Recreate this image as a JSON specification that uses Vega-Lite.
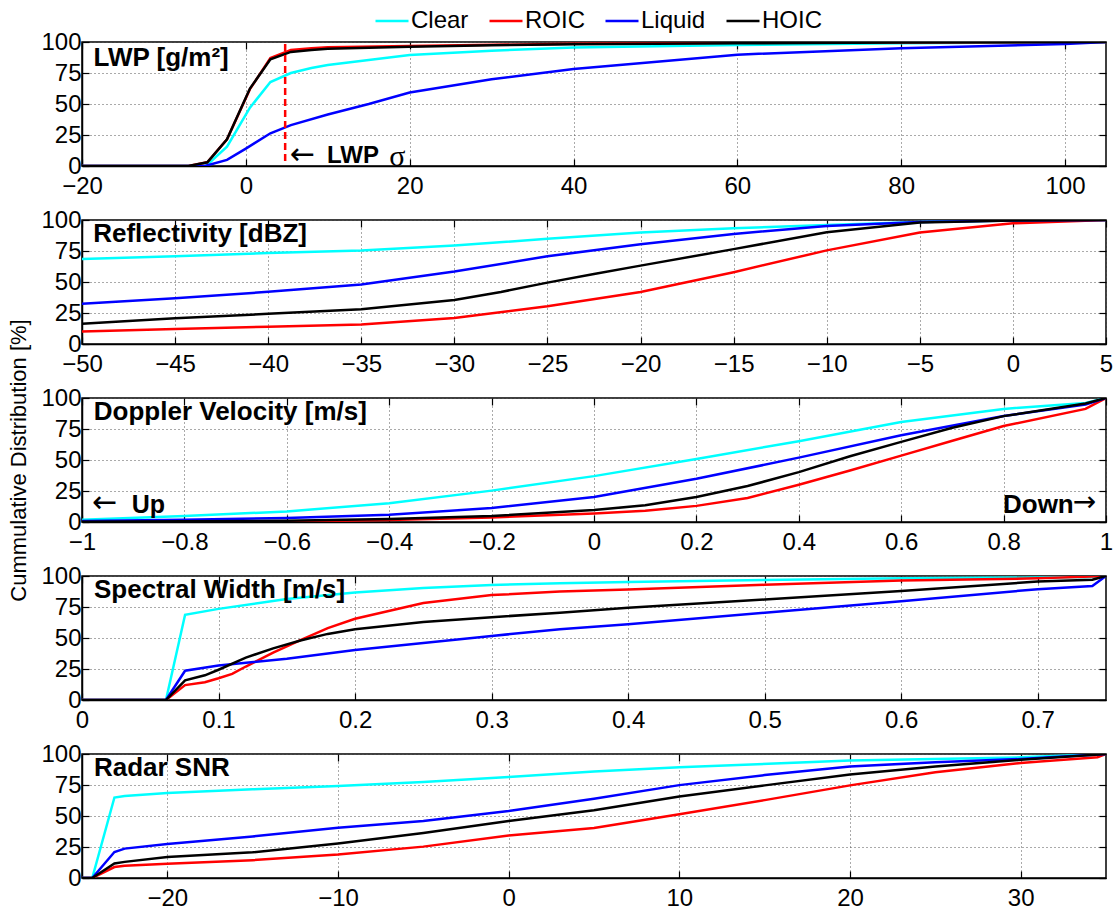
{
  "$schema": "https://vega.github.io/schema/vega-lite/v6.json",
  "padding": {"left": 6, "top": 3, "right": 0, "bottom": 5},
  "background": "white",
  "spacing": 54,
  "bounds": "flush",
  "resolve": {"scale": {"color": "shared", "x": "independent", "y": "independent"}},
  "datasets": {
    "lwp": [
      {"s":"Clear","x":-20,"y":0},{"s":"Clear","x":-5,"y":0},{"s":"Clear","x":-4.7,"y":1},{"s":"Clear","x":-2.3,"y":15.6},{"s":"Clear","x":0.5,"y":47},{"s":"Clear","x":3,"y":67.7},{"s":"Clear","x":5.5,"y":75},{"s":"Clear","x":8,"y":79},{"s":"Clear","x":10,"y":81.5},{"s":"Clear","x":15,"y":85.5},{"s":"Clear","x":20,"y":89.5},{"s":"Clear","x":30,"y":93},{"s":"Clear","x":40,"y":95.5},{"s":"Clear","x":60,"y":97.5},{"s":"Clear","x":80,"y":99},{"s":"Clear","x":105,"y":100},
      {"s":"ROIC","x":-20,"y":0},{"s":"ROIC","x":-7,"y":0},{"s":"ROIC","x":-4.7,"y":3},{"s":"ROIC","x":-2.3,"y":21.5},{"s":"ROIC","x":0.5,"y":62},{"s":"ROIC","x":3,"y":87},{"s":"ROIC","x":5.5,"y":93.5},{"s":"ROIC","x":8,"y":95},{"s":"ROIC","x":10,"y":95.7},{"s":"ROIC","x":20,"y":96.8},{"s":"ROIC","x":40,"y":98.6},{"s":"ROIC","x":60,"y":99.3},{"s":"ROIC","x":105,"y":100},
      {"s":"Liquid","x":-20,"y":0},{"s":"Liquid","x":-5,"y":0},{"s":"Liquid","x":-2.3,"y":4.9},{"s":"Liquid","x":0,"y":14},{"s":"Liquid","x":3,"y":26.4},{"s":"Liquid","x":5.5,"y":33},{"s":"Liquid","x":10,"y":41.5},{"s":"Liquid","x":15,"y":50},{"s":"Liquid","x":20,"y":59.3},{"s":"Liquid","x":30,"y":70},{"s":"Liquid","x":40,"y":78.2},{"s":"Liquid","x":60,"y":89.8},{"s":"Liquid","x":80,"y":95},{"s":"Liquid","x":100,"y":98.4},{"s":"Liquid","x":105,"y":100},
      {"s":"HOIC","x":-20,"y":0},{"s":"HOIC","x":-7,"y":0},{"s":"HOIC","x":-4.7,"y":3},{"s":"HOIC","x":-2.3,"y":21.6},{"s":"HOIC","x":0.5,"y":62.5},{"s":"HOIC","x":3,"y":86},{"s":"HOIC","x":5.5,"y":92},{"s":"HOIC","x":8,"y":93.5},{"s":"HOIC","x":10,"y":94.5},{"s":"HOIC","x":20,"y":96.2},{"s":"HOIC","x":30,"y":97.3},{"s":"HOIC","x":40,"y":98.2},{"s":"HOIC","x":60,"y":99},{"s":"HOIC","x":80,"y":99.5},{"s":"HOIC","x":105,"y":100}
    ],
    "refl": [
      {"s":"Clear","x":-50,"y":68.5},{"s":"Clear","x":-45,"y":70.7},{"s":"Clear","x":-40,"y":73.3},{"s":"Clear","x":-35,"y":75.5},{"s":"Clear","x":-30,"y":79.5},{"s":"Clear","x":-25,"y":84.8},{"s":"Clear","x":-20,"y":89.9},{"s":"Clear","x":-15,"y":93.3},{"s":"Clear","x":-10,"y":96},{"s":"Clear","x":-5,"y":98.4},{"s":"Clear","x":0,"y":99.5},{"s":"Clear","x":5,"y":100},
      {"s":"ROIC","x":-50,"y":10.1},{"s":"ROIC","x":-45,"y":12},{"s":"ROIC","x":-40,"y":13.9},{"s":"ROIC","x":-35,"y":15.7},{"s":"ROIC","x":-30,"y":21},{"s":"ROIC","x":-25,"y":30.5},{"s":"ROIC","x":-20,"y":41.9},{"s":"ROIC","x":-15,"y":57.9},{"s":"ROIC","x":-10,"y":75.5},{"s":"ROIC","x":-5,"y":89.9},{"s":"ROIC","x":0,"y":97.3},{"s":"ROIC","x":5,"y":100},
      {"s":"Liquid","x":-50,"y":32.5},{"s":"Liquid","x":-45,"y":36.8},{"s":"Liquid","x":-40,"y":42.1},{"s":"Liquid","x":-35,"y":48},{"s":"Liquid","x":-30,"y":58.4},{"s":"Liquid","x":-25,"y":70.7},{"s":"Liquid","x":-20,"y":80.5},{"s":"Liquid","x":-15,"y":88.8},{"s":"Liquid","x":-10,"y":95.2},{"s":"Liquid","x":-5,"y":98.4},{"s":"Liquid","x":0,"y":99.5},{"s":"Liquid","x":5,"y":100},
      {"s":"HOIC","x":-50,"y":16.3},{"s":"HOIC","x":-45,"y":20.8},{"s":"HOIC","x":-40,"y":24.3},{"s":"HOIC","x":-35,"y":28},{"s":"HOIC","x":-30,"y":35.5},{"s":"HOIC","x":-27.5,"y":42},{"s":"HOIC","x":-25,"y":49.5},{"s":"HOIC","x":-22.5,"y":56.5},{"s":"HOIC","x":-20,"y":63.2},{"s":"HOIC","x":-15,"y":76.5},{"s":"HOIC","x":-10,"y":90.1},{"s":"HOIC","x":-5,"y":97.9},{"s":"HOIC","x":0,"y":99.5},{"s":"HOIC","x":5,"y":100}
    ],
    "dop": [
      {"s":"Clear","x":-1,"y":1.9},{"s":"Clear","x":-0.8,"y":4.8},{"s":"Clear","x":-0.6,"y":8.5},{"s":"Clear","x":-0.4,"y":15.2},{"s":"Clear","x":-0.2,"y":25.3},{"s":"Clear","x":0,"y":37},{"s":"Clear","x":0.2,"y":50.8},{"s":"Clear","x":0.4,"y":65.2},{"s":"Clear","x":0.6,"y":80.6},{"s":"Clear","x":0.8,"y":91.2},{"s":"Clear","x":0.96,"y":96},{"s":"Clear","x":1,"y":100},
      {"s":"ROIC","x":-1,"y":0},{"s":"ROIC","x":-0.6,"y":0.5},{"s":"ROIC","x":-0.4,"y":1.6},{"s":"ROIC","x":-0.2,"y":3.7},{"s":"ROIC","x":0,"y":6.9},{"s":"ROIC","x":0.1,"y":9},{"s":"ROIC","x":0.2,"y":13},{"s":"ROIC","x":0.3,"y":19.4},{"s":"ROIC","x":0.4,"y":30},{"s":"ROIC","x":0.5,"y":41.5},{"s":"ROIC","x":0.6,"y":53.5},{"s":"ROIC","x":0.7,"y":65.5},{"s":"ROIC","x":0.8,"y":77.4},{"s":"ROIC","x":0.96,"y":91.2},{"s":"ROIC","x":1,"y":100},
      {"s":"Liquid","x":-1,"y":0.8},{"s":"Liquid","x":-0.8,"y":1.9},{"s":"Liquid","x":-0.6,"y":3.2},{"s":"Liquid","x":-0.4,"y":5.9},{"s":"Liquid","x":-0.2,"y":11.2},{"s":"Liquid","x":0,"y":20.2},{"s":"Liquid","x":0.2,"y":34.8},{"s":"Liquid","x":0.4,"y":51.9},{"s":"Liquid","x":0.6,"y":69.9},{"s":"Liquid","x":0.8,"y":85.4},{"s":"Liquid","x":0.96,"y":94.7},{"s":"Liquid","x":1,"y":100},
      {"s":"HOIC","x":-1,"y":0.3},{"s":"HOIC","x":-0.8,"y":0.6},{"s":"HOIC","x":-0.6,"y":1},{"s":"HOIC","x":-0.4,"y":2.4},{"s":"HOIC","x":-0.2,"y":4.8},{"s":"HOIC","x":0,"y":9.6},{"s":"HOIC","x":0.1,"y":13.5},{"s":"HOIC","x":0.2,"y":20.2},{"s":"HOIC","x":0.3,"y":29},{"s":"HOIC","x":0.4,"y":40.2},{"s":"HOIC","x":0.5,"y":53},{"s":"HOIC","x":0.6,"y":64.6},{"s":"HOIC","x":0.7,"y":76},{"s":"HOIC","x":0.8,"y":85.4},{"s":"HOIC","x":0.96,"y":95.5},{"s":"HOIC","x":1,"y":100}
    ],
    "sw": [
      {"s":"Clear","x":0,"y":0},{"s":"Clear","x":0.0615,"y":0},{"s":"Clear","x":0.0755,"y":68.7},{"s":"Clear","x":0.1,"y":73.5},{"s":"Clear","x":0.15,"y":81.4},{"s":"Clear","x":0.2,"y":86.7},{"s":"Clear","x":0.25,"y":90.3},{"s":"Clear","x":0.3,"y":92.8},{"s":"Clear","x":0.35,"y":94.2},{"s":"Clear","x":0.4,"y":95.2},{"s":"Clear","x":0.5,"y":96.8},{"s":"Clear","x":0.6,"y":98.1},{"s":"Clear","x":0.7,"y":98.8},{"s":"Clear","x":0.74,"y":99.2},{"s":"Clear","x":0.75,"y":100},
      {"s":"ROIC","x":0,"y":0},{"s":"ROIC","x":0.0615,"y":0},{"s":"ROIC","x":0.0755,"y":12},{"s":"ROIC","x":0.09,"y":14.3},{"s":"ROIC","x":0.1,"y":17.5},{"s":"ROIC","x":0.11,"y":21},{"s":"ROIC","x":0.12,"y":27},{"s":"ROIC","x":0.14,"y":38.2},{"s":"ROIC","x":0.16,"y":48.3},{"s":"ROIC","x":0.18,"y":58},{"s":"ROIC","x":0.2,"y":65.5},{"s":"ROIC","x":0.25,"y":78.2},{"s":"ROIC","x":0.3,"y":84.6},{"s":"ROIC","x":0.35,"y":87.5},{"s":"ROIC","x":0.4,"y":89.2},{"s":"ROIC","x":0.5,"y":92.9},{"s":"ROIC","x":0.6,"y":96.3},{"s":"ROIC","x":0.7,"y":98.1},{"s":"ROIC","x":0.75,"y":100},
      {"s":"Liquid","x":0,"y":0},{"s":"Liquid","x":0.0615,"y":0},{"s":"Liquid","x":0.0755,"y":23.6},{"s":"Liquid","x":0.1,"y":27.9},{"s":"Liquid","x":0.15,"y":33.2},{"s":"Liquid","x":0.2,"y":40.3},{"s":"Liquid","x":0.3,"y":51.7},{"s":"Liquid","x":0.35,"y":57},{"s":"Liquid","x":0.4,"y":61},{"s":"Liquid","x":0.5,"y":70.4},{"s":"Liquid","x":0.6,"y":79.6},{"s":"Liquid","x":0.7,"y":89.4},{"s":"Liquid","x":0.74,"y":92},{"s":"Liquid","x":0.75,"y":100},
      {"s":"HOIC","x":0,"y":0},{"s":"HOIC","x":0.0615,"y":0},{"s":"HOIC","x":0.0755,"y":15.9},{"s":"HOIC","x":0.09,"y":19.9},{"s":"HOIC","x":0.1,"y":24.4},{"s":"HOIC","x":0.12,"y":34.2},{"s":"HOIC","x":0.14,"y":41.6},{"s":"HOIC","x":0.16,"y":48},{"s":"HOIC","x":0.18,"y":53.3},{"s":"HOIC","x":0.2,"y":57},{"s":"HOIC","x":0.25,"y":62.9},{"s":"HOIC","x":0.3,"y":66.8},{"s":"HOIC","x":0.35,"y":70.3},{"s":"HOIC","x":0.4,"y":74.3},{"s":"HOIC","x":0.5,"y":81},{"s":"HOIC","x":0.6,"y":88},{"s":"HOIC","x":0.7,"y":95.5},{"s":"HOIC","x":0.74,"y":97},{"s":"HOIC","x":0.75,"y":100}
    ],
    "snr": [
      {"s":"Clear","x":-25,"y":0},{"s":"Clear","x":-24.4,"y":0},{"s":"Clear","x":-23.1,"y":64.9},{"s":"Clear","x":-22.5,"y":66.2},{"s":"Clear","x":-20,"y":68.6},{"s":"Clear","x":-15,"y":71.5},{"s":"Clear","x":-10,"y":74.2},{"s":"Clear","x":-5,"y":77.4},{"s":"Clear","x":0,"y":81.4},{"s":"Clear","x":5,"y":85.8},{"s":"Clear","x":10,"y":89.4},{"s":"Clear","x":20,"y":94.7},{"s":"Clear","x":30,"y":97.3},{"s":"Clear","x":35,"y":100},
      {"s":"ROIC","x":-25,"y":0},{"s":"ROIC","x":-24.4,"y":0},{"s":"ROIC","x":-23.1,"y":8.8},{"s":"ROIC","x":-22.5,"y":9.8},{"s":"ROIC","x":-20,"y":11.4},{"s":"ROIC","x":-15,"y":14.4},{"s":"ROIC","x":-10,"y":18.9},{"s":"ROIC","x":-5,"y":25.3},{"s":"ROIC","x":0,"y":34.3},{"s":"ROIC","x":5,"y":40.3},{"s":"ROIC","x":10,"y":51.4},{"s":"ROIC","x":15,"y":62.8},{"s":"ROIC","x":20,"y":74.7},{"s":"ROIC","x":25,"y":85.3},{"s":"ROIC","x":30,"y":92.8},{"s":"ROIC","x":34.5,"y":97.4},{"s":"ROIC","x":35,"y":100},
      {"s":"Liquid","x":-25,"y":0},{"s":"Liquid","x":-24.4,"y":0},{"s":"Liquid","x":-23.1,"y":21},{"s":"Liquid","x":-22.5,"y":23.7},{"s":"Liquid","x":-20,"y":27.4},{"s":"Liquid","x":-15,"y":33.5},{"s":"Liquid","x":-10,"y":40.5},{"s":"Liquid","x":-5,"y":46},{"s":"Liquid","x":0,"y":54},{"s":"Liquid","x":5,"y":64},{"s":"Liquid","x":10,"y":74.9},{"s":"Liquid","x":15,"y":83},{"s":"Liquid","x":20,"y":90},{"s":"Liquid","x":25,"y":93.4},{"s":"Liquid","x":30,"y":96},{"s":"Liquid","x":35,"y":100},
      {"s":"HOIC","x":-25,"y":0},{"s":"HOIC","x":-24.4,"y":0},{"s":"HOIC","x":-23.1,"y":11.7},{"s":"HOIC","x":-22.5,"y":13},{"s":"HOIC","x":-20,"y":17},{"s":"HOIC","x":-15,"y":20.7},{"s":"HOIC","x":-10,"y":27.9},{"s":"HOIC","x":-5,"y":36.2},{"s":"HOIC","x":0,"y":46},{"s":"HOIC","x":5,"y":54.7},{"s":"HOIC","x":10,"y":65.8},{"s":"HOIC","x":15,"y":74.7},{"s":"HOIC","x":20,"y":83.5},{"s":"HOIC","x":25,"y":90},{"s":"HOIC","x":30,"y":95.3},{"s":"HOIC","x":35,"y":100}
    ]
  },
  "config": {
    "font": "Liberation Sans",
    "view": {"stroke": "#000", "strokeWidth": 1.5},
    "axis": {
      "labelFont": "Liberation Sans", "labelFontSize": 24, "labelColor": "#000",
      "tickColor": "#000", "tickSize": -7, "tickWidth": 1.2,
      "domainColor": "#000", "domainWidth": 1.5,
      "grid": true, "gridColor": "#555", "gridDash": [1, 3], "gridWidth": 1, "gridOpacity": 1,
      "labelFlush": false, "labelOverlap": false,
      "titleFont": "Liberation Sans", "titleFontSize": 22, "titleFontWeight": "normal", "titleColor": "#000"
    },
    "axisX": {"labelPadding": 15},
    "axisY": {"labelPadding": 8},
    "legend": {
      "orient": "none", "legendX": 292, "legendY": -39, "direction": "horizontal",
      "symbolType": "stroke", "symbolSize": 1089, "symbolStrokeWidth": 2.5,
      "labelFont": "Liberation Sans", "labelFontSize": 24, "labelColor": "#000",
      "labelOffset": 1, "columnPadding": 15, "title": null
    },
    "text": {"font": "Liberation Sans", "color": "#000"}
  },
  "vconcat": [
    {
      "width": 1024, "height": 124,
      "resolve": {"axis": {"x": "independent", "y": "independent"}},
      "layer": [
        {"data": {"name": "lwp"},
         "mark": {"type": "line", "strokeWidth": 2.5, "clip": true},
         "encoding": {
           "x": {"field": "x", "type": "quantitative", "scale": {"domain": [-20, 105], "nice": false, "zero": false}, "axis": {"values": [-20, 0, 20, 40, 60, 80, 100], "format": "d", "title": null, "grid": true, "labelOverlap": false}},
           "y": {"field": "y", "type": "quantitative", "scale": {"domain": [0, 100], "nice": false}, "axis": {"values": [0, 25, 50, 75, 100], "format": "d", "title": null, "grid": true, "labelOverlap": false}},
           "color": {"field": "s", "type": "nominal", "scale": {"domain": ["Clear", "ROIC", "Liquid", "HOIC"], "range": ["#00FFFF", "#FF0000", "#0000FF", "#000000"]}, "legend": {"title": null}}
         }},
        {"data": {"values": [{}]},
         "mark": {"type": "text", "text": ""},
         "encoding": {
           "x": {"datum": -20, "type": "quantitative", "axis": {"orient": "top", "values": [-20, 0, 20, 40, 60, 80, 100], "labels": false, "grid": false, "domain": false, "title": null}},
           "y": {"datum": 0, "type": "quantitative", "axis": {"orient": "right", "values": [0, 25, 50, 75, 100], "labels": false, "grid": false, "domain": false, "title": null}}}},
        {"data": {"values": [{}]},
         "mark": {"type": "rule", "color": "#FF0000", "strokeWidth": 2.5, "strokeDash": [7, 4]},
         "encoding": {"x": {"datum": 4.8, "type": "quantitative", "axis": null}, "y": {"datum": 4, "type": "quantitative", "axis": null}, "y2": {"datum": 100}}},
        {"data": {"values": [{}]},
         "mark": {"type": "text", "align": "left", "baseline": "middle", "fontSize": 30, "font": "DejaVu Sans"},
         "encoding": {"x": {"datum": 5.4, "type": "quantitative", "axis": null}, "y": {"datum": 9, "type": "quantitative", "axis": null}, "text": {"value": "←"}}},
        {"data": {"values": [{}]},
         "mark": {"type": "text", "align": "left", "baseline": "middle", "fontSize": 24, "fontWeight": "bold"},
         "encoding": {"x": {"datum": 9.9, "type": "quantitative", "axis": null}, "y": {"datum": 8, "type": "quantitative", "axis": null}, "text": {"value": "LWP"}}},
        {"data": {"values": [{}]},
         "mark": {"type": "text", "align": "left", "baseline": "middle", "fontSize": 30, "font": "Liberation Serif"},
         "encoding": {"x": {"datum": 17.5, "type": "quantitative", "axis": null}, "y": {"datum": 7.5, "type": "quantitative", "axis": null}, "text": {"value": "σ"}}},
        {"data": {"values": [{}]},
         "mark": {"type": "text", "align": "left", "baseline": "middle", "fontSize": 26, "fontWeight": "bold"},
         "encoding": {"x": {"datum": -18.6, "type": "quantitative", "axis": null}, "y": {"datum": 87.5, "type": "quantitative", "axis": null}, "text": {"value": "LWP [g/m²]"}}}
      ]
    },
    {
      "width": 1024, "height": 124,
      "resolve": {"axis": {"x": "independent", "y": "independent"}},
      "layer": [
        {"data": {"name": "refl"},
         "mark": {"type": "line", "strokeWidth": 2.5, "clip": true},
         "encoding": {
           "x": {"field": "x", "type": "quantitative", "scale": {"domain": [-50, 5], "nice": false, "zero": false}, "axis": {"values": [-50, -45, -40, -35, -30, -25, -20, -15, -10, -5, 0, 5], "format": "d", "title": null, "grid": true, "labelOverlap": false}},
           "y": {"field": "y", "type": "quantitative", "scale": {"domain": [0, 100], "nice": false}, "axis": {"values": [0, 25, 50, 75, 100], "format": "d", "title": null, "grid": true, "labelOverlap": false}},
           "color": {"field": "s", "type": "nominal", "scale": {"domain": ["Clear", "ROIC", "Liquid", "HOIC"], "range": ["#00FFFF", "#FF0000", "#0000FF", "#000000"]}, "legend": {"title": null}}
         }},
        {"data": {"values": [{}]},
         "mark": {"type": "text", "text": ""},
         "encoding": {
           "x": {"datum": -50, "type": "quantitative", "axis": {"orient": "top", "values": [-50, -45, -40, -35, -30, -25, -20, -15, -10, -5, 0, 5], "labels": false, "grid": false, "domain": false, "title": null}},
           "y": {"datum": 0, "type": "quantitative", "axis": {"orient": "right", "values": [0, 25, 50, 75, 100], "labels": false, "grid": false, "domain": false, "title": null}}}},
        {"data": {"values": [{}]},
         "mark": {"type": "text", "align": "left", "baseline": "middle", "fontSize": 26, "fontWeight": "bold"},
         "encoding": {"x": {"datum": -49.4, "type": "quantitative", "axis": null}, "y": {"datum": 88.5, "type": "quantitative", "axis": null}, "text": {"value": "Reflectivity [dBZ]"}}}
      ]
    },
    {
      "width": 1024, "height": 124,
      "resolve": {"axis": {"x": "independent", "y": "independent"}},
      "layer": [
        {"data": {"name": "dop"},
         "mark": {"type": "line", "strokeWidth": 2.5, "clip": true},
         "encoding": {
           "x": {"field": "x", "type": "quantitative", "scale": {"domain": [-1, 1], "nice": false, "zero": false}, "axis": {"values": [-1, -0.8, -0.6, -0.4, -0.2, 0, 0.2, 0.4, 0.6, 0.8, 1], "format": "~g", "title": null, "grid": true, "labelOverlap": false}},
           "y": {"field": "y", "type": "quantitative", "scale": {"domain": [0, 100], "nice": false}, "axis": {"values": [0, 25, 50, 75, 100], "format": "d", "title": "Cummulative Distribution [%]", "titleX": -52, "grid": true, "labelOverlap": false}},
           "color": {"field": "s", "type": "nominal", "scale": {"domain": ["Clear", "ROIC", "Liquid", "HOIC"], "range": ["#00FFFF", "#FF0000", "#0000FF", "#000000"]}, "legend": {"title": null}}
         }},
        {"data": {"values": [{}]},
         "mark": {"type": "text", "text": ""},
         "encoding": {
           "x": {"datum": -1, "type": "quantitative", "axis": {"orient": "top", "values": [-1, -0.8, -0.6, -0.4, -0.2, 0, 0.2, 0.4, 0.6, 0.8, 1], "labels": false, "grid": false, "domain": false, "title": null}},
           "y": {"datum": 0, "type": "quantitative", "axis": {"orient": "right", "values": [0, 25, 50, 75, 100], "labels": false, "grid": false, "domain": false, "title": null}}}},
        {"data": {"values": [{}]},
         "mark": {"type": "text", "align": "left", "baseline": "middle", "fontSize": 26, "fontWeight": "bold"},
         "encoding": {"x": {"datum": -0.977, "type": "quantitative", "axis": null}, "y": {"datum": 88.5, "type": "quantitative", "axis": null}, "text": {"value": "Doppler Velocity [m/s]"}}},
        {"data": {"values": [{}]},
         "mark": {"type": "text", "align": "left", "baseline": "middle", "fontSize": 30, "font": "DejaVu Sans"},
         "encoding": {"x": {"datum": -0.98, "type": "quantitative", "axis": null}, "y": {"datum": 15, "type": "quantitative", "axis": null}, "text": {"value": "←"}}},
        {"data": {"values": [{}]},
         "mark": {"type": "text", "align": "left", "baseline": "middle", "fontSize": 25, "fontWeight": "bold"},
         "encoding": {"x": {"datum": -0.903, "type": "quantitative", "axis": null}, "y": {"datum": 14, "type": "quantitative", "axis": null}, "text": {"value": "Up"}}},
        {"data": {"values": [{}]},
         "mark": {"type": "text", "align": "right", "baseline": "middle", "fontSize": 26, "fontWeight": "bold"},
         "encoding": {"x": {"datum": 0.937, "type": "quantitative", "axis": null}, "y": {"datum": 14, "type": "quantitative", "axis": null}, "text": {"value": "Down"}}},
        {"data": {"values": [{}]},
         "mark": {"type": "text", "align": "left", "baseline": "middle", "fontSize": 28, "font": "DejaVu Sans"},
         "encoding": {"x": {"datum": 0.935, "type": "quantitative", "axis": null}, "y": {"datum": 15, "type": "quantitative", "axis": null}, "text": {"value": "→"}}}
      ]
    },
    {
      "width": 1024, "height": 124,
      "resolve": {"axis": {"x": "independent", "y": "independent"}},
      "layer": [
        {"data": {"name": "sw"},
         "mark": {"type": "line", "strokeWidth": 2.5, "clip": true},
         "encoding": {
           "x": {"field": "x", "type": "quantitative", "scale": {"domain": [0, 0.75], "nice": false, "zero": false}, "axis": {"values": [0, 0.1, 0.2, 0.3, 0.4, 0.5, 0.6, 0.7], "format": "~g", "title": null, "grid": true, "labelOverlap": false}},
           "y": {"field": "y", "type": "quantitative", "scale": {"domain": [0, 100], "nice": false}, "axis": {"values": [0, 25, 50, 75, 100], "format": "d", "title": null, "grid": true, "labelOverlap": false}},
           "color": {"field": "s", "type": "nominal", "scale": {"domain": ["Clear", "ROIC", "Liquid", "HOIC"], "range": ["#00FFFF", "#FF0000", "#0000FF", "#000000"]}, "legend": {"title": null}}
         }},
        {"data": {"values": [{}]},
         "mark": {"type": "text", "text": ""},
         "encoding": {
           "x": {"datum": 0, "type": "quantitative", "axis": {"orient": "top", "values": [0, 0.1, 0.2, 0.3, 0.4, 0.5, 0.6, 0.7], "labels": false, "grid": false, "domain": false, "title": null}},
           "y": {"datum": 0, "type": "quantitative", "axis": {"orient": "right", "values": [0, 25, 50, 75, 100], "labels": false, "grid": false, "domain": false, "title": null}}}},
        {"data": {"values": [{}]},
         "mark": {"type": "text", "align": "left", "baseline": "middle", "fontSize": 26, "fontWeight": "bold"},
         "encoding": {"x": {"datum": 0.0088, "type": "quantitative", "axis": null}, "y": {"datum": 88.5, "type": "quantitative", "axis": null}, "text": {"value": "Spectral Width [m/s]"}}}
      ]
    },
    {
      "width": 1024, "height": 124,
      "resolve": {"axis": {"x": "independent", "y": "independent"}},
      "layer": [
        {"data": {"name": "snr"},
         "mark": {"type": "line", "strokeWidth": 2.5, "clip": true},
         "encoding": {
           "x": {"field": "x", "type": "quantitative", "scale": {"domain": [-25, 35], "nice": false, "zero": false}, "axis": {"values": [-20, -10, 0, 10, 20, 30], "format": "d", "title": null, "grid": true, "labelOverlap": false}},
           "y": {"field": "y", "type": "quantitative", "scale": {"domain": [0, 100], "nice": false}, "axis": {"values": [0, 25, 50, 75, 100], "format": "d", "title": null, "grid": true, "labelOverlap": false}},
           "color": {"field": "s", "type": "nominal", "scale": {"domain": ["Clear", "ROIC", "Liquid", "HOIC"], "range": ["#00FFFF", "#FF0000", "#0000FF", "#000000"]}, "legend": {"title": null}}
         }},
        {"data": {"values": [{}]},
         "mark": {"type": "text", "text": ""},
         "encoding": {
           "x": {"datum": -25, "type": "quantitative", "axis": {"orient": "top", "values": [-20, -10, 0, 10, 20, 30], "labels": false, "grid": false, "domain": false, "title": null}},
           "y": {"datum": 0, "type": "quantitative", "axis": {"orient": "right", "values": [0, 25, 50, 75, 100], "labels": false, "grid": false, "domain": false, "title": null}}}},
        {"data": {"values": [{}]},
         "mark": {"type": "text", "align": "left", "baseline": "middle", "fontSize": 26, "fontWeight": "bold"},
         "encoding": {"x": {"datum": -24.3, "type": "quantitative", "axis": null}, "y": {"datum": 88.5, "type": "quantitative", "axis": null}, "text": {"value": "Radar SNR"}}}
      ]
    }
  ]
}
